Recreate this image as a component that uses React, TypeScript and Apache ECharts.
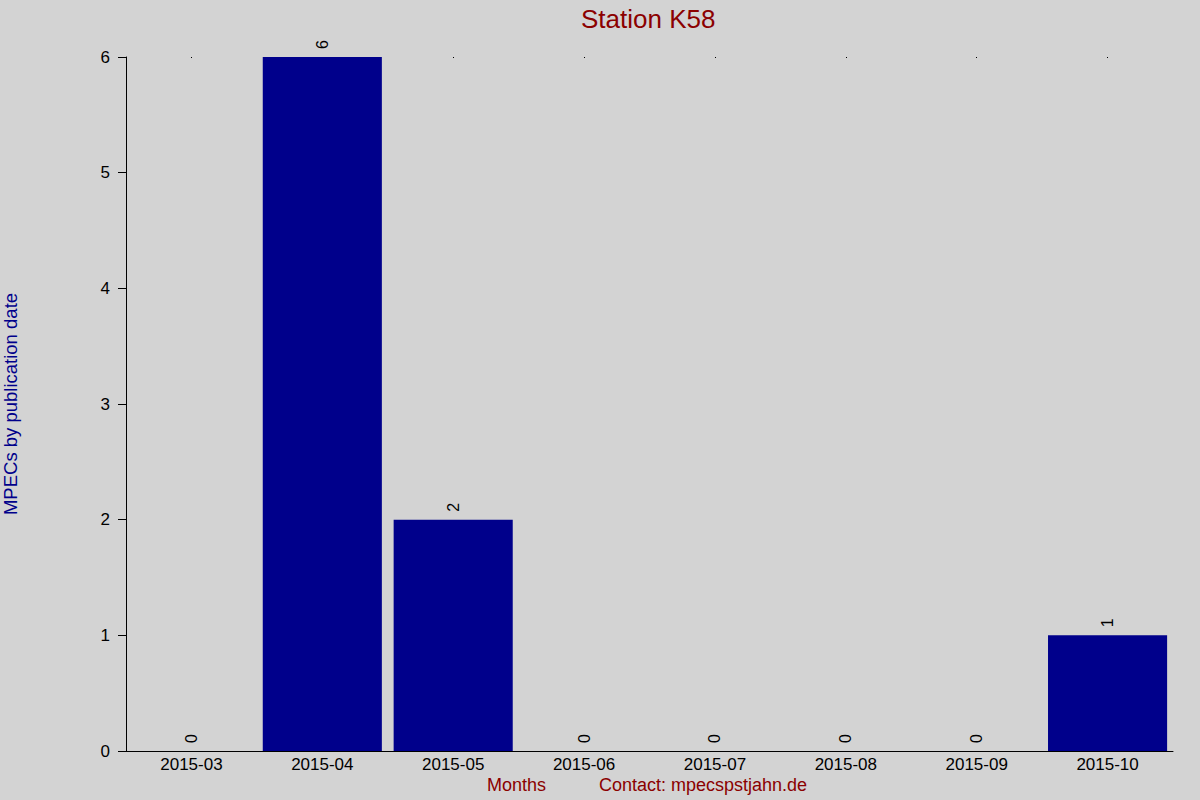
import React, { useEffect, useRef } from 'react'
import * as echarts from 'echarts'

const months = ['2015-03', '2015-04', '2015-05', '2015-06', '2015-07', '2015-08', '2015-09', '2015-10']
const counts = [0, 6, 2, 0, 0, 0, 0, 1]
const yTicks = [0, 1, 2, 3, 4, 5, 6]

const FONT = '"Liberation Sans", Arial, sans-serif'

const App = () => {
  const chartRef = useRef<HTMLDivElement>(null)

  useEffect(() => {
    if (!chartRef.current) return
    const chart = echarts.init(chartRef.current, undefined, { renderer: 'svg' })

    const option = {
      animation: false,
      backgroundColor: '#d3d3d3',
      textStyle: { fontFamily: FONT },
      title: {
        text: 'Station K58',
        left: 581,
        top: 6,
        padding: 0,
        textStyle: { color: '#8b0000', fontSize: 26, fontWeight: 'normal', fontFamily: FONT },
      },
      // outerBoundsMode none: keep the grid exactly where it is put
      grid: { left: 126, right: 27, top: 57, bottom: 49, outerBoundsMode: 'none' },
      xAxis: [
        {
          type: 'category',
          data: months,
          axisLine: { lineStyle: { color: '#000', width: 1 } },
          axisTick: { show: false },
          axisLabel: { color: '#000', fontSize: 17, margin: 5, fontFamily: FONT },
        },
        {
          // tiny marks along the top edge at the category centres
          type: 'category',
          data: months,
          position: 'top',
          axisLine: { show: false },
          axisTick: { show: true, alignWithLabel: true, length: 1, inside: true, lineStyle: { color: '#000' } },
          axisLabel: { show: false },
        },
      ],
      yAxis: {
        type: 'value',
        min: yTicks[0],
        max: yTicks[yTicks.length - 1],
        interval: 1,
        name: 'MPECs by publication date',
        nameLocation: 'middle',
        nameGap: 106,
        nameTextStyle: { color: '#00008b', fontSize: 18.5, fontFamily: FONT },
        axisLine: { show: true, lineStyle: { color: '#000', width: 1 } },
        axisTick: { show: true, length: 8, lineStyle: { color: '#000' } },
        axisLabel: { color: '#000', fontSize: 17, margin: 16, fontFamily: FONT },
        splitLine: { show: false },
      },
      series: [
        {
          type: 'bar',
          data: counts,
          barCategoryGap: '9%',
          itemStyle: { color: '#00008b' },
          label: {
            show: true,
            position: 'top',
            rotate: 90,
            align: 'left',
            verticalAlign: 'middle',
            distance: 8,
            color: '#000',
            fontSize: 16,
            fontFamily: FONT,
          },
        },
      ],
      graphic: [
        {
          type: 'text',
          left: 487,
          top: 776,
          style: { text: 'Months', fill: '#8b0000', font: `18px ${FONT}` },
        },
        {
          type: 'text',
          left: 599,
          top: 776,
          style: { text: 'Contact: mpecspstjahn.de', fill: '#8b0000', font: `18px ${FONT}` },
        },
      ],
    }

    chart.setOption(option)
    return () => {
      chart.dispose()
    }
  }, [])

  return <div ref={chartRef} style={{ position: 'fixed', left: 0, top: 0, width: 1200, height: 800 }} />
}

export default App
